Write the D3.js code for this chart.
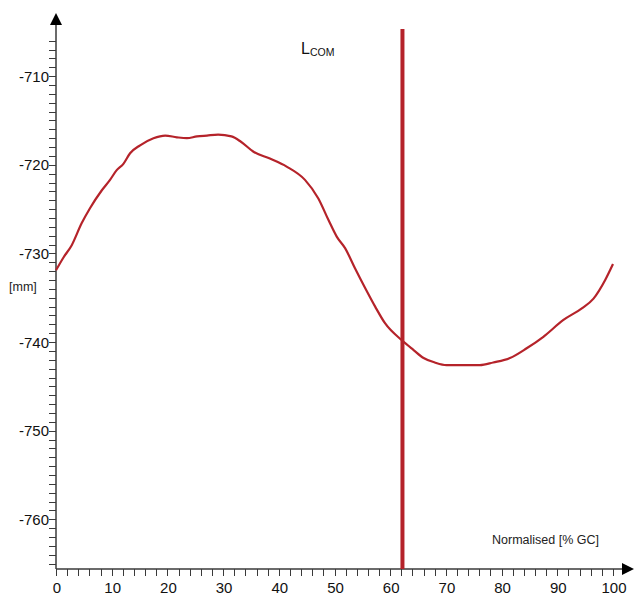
<!DOCTYPE html>
<html>
<head>
<meta charset="utf-8">
<script src="https://cdn.jsdelivr.net/npm/d3@7"></script>
<style>
  html, body { margin: 0; padding: 0; background: #fff; }
  svg { display: block; font-family: "Liberation Sans", Arial, sans-serif; }
</style>
</head>
<body>
<svg id="chart" width="634" height="597"></svg>
<script>
// Gait cycle position (% GC) and trajectory value (mm)
const gaitPercent = [0, 1.4, 2.8, 4.6, 6.1, 8.2, 9.7, 10.9, 12.1, 13.3, 15.1, 17.5, 19.6, 21.7, 23.5, 25.3, 27.1, 29.1, 31.5, 33.2, 35.4, 38.4, 41.4, 44.7, 47.1, 48.9, 50.4, 51.9, 53.7, 55.5, 57.3, 59.1, 62.1, 64.2, 66.0, 68.0, 70.1, 73.0, 76.1, 78.5, 81.5, 84.5, 87.5, 91.1, 94.4, 96.5, 98.6, 100];
const positionMm = [-731.9, -730.4, -729.1, -726.6, -724.9, -722.9, -721.7, -720.6, -719.9, -718.7, -717.8, -717.0, -716.7, -716.9, -717.0, -716.8, -716.7, -716.6, -716.8, -717.4, -718.5, -719.3, -720.2, -721.7, -723.8, -726.2, -728.1, -729.4, -731.7, -733.9, -736.0, -737.9, -739.8, -740.9, -741.8, -742.3, -742.6, -742.6, -742.6, -742.3, -741.8, -740.7, -739.4, -737.5, -736.2, -735.1, -733.0, -731.2];

// Event marker
const eventName = "L";
const eventSub = "COM";
const eventAt = 62.2;

// Axis ticks
const xMajorTicks = [0, 10, 20, 30, 40, 50, 60, 70, 80, 90, 100];
const yMajorTicks = [-710, -720, -730, -740, -750, -760];

const yLabel = "[mm]";
const xLabel = "Normalised [% GC]";

const red = "#b5232a";
const axisColor = "#3a3a3a";

const svg = d3.select("#chart");

const x = d3.scaleLinear().domain([0, 100]).range([56, 613]);
const y = d3.scaleLinear().domain([-765.6, -703.1]).range([569, 15]);

const x0 = x(0), yBase = 569;

// Minor ticks
const xMinor = d3.range(0, 101, 2);
const yMinor = d3.range(-765, -705, 1);

// Y axis
const gy = svg.append("g");
gy.append("line")
  .attr("x1", x0).attr("x2", x0).attr("y1", yBase).attr("y2", 22)
  .attr("stroke", axisColor).attr("stroke-width", 1.5);
gy.append("path")
  .attr("d", `M${x0 - 6},25 L${x0 + 6},25 L${x0},13 Z`)
  .attr("fill", "#000");
gy.selectAll("line.tick").data(yMinor).join("line")
  .attr("class", "tick")
  .attr("x1", x0 - 7).attr("x2", x0)
  .attr("y1", d => Math.round(y(d)) + 0.5).attr("y2", d => Math.round(y(d)) + 0.5)
  .attr("stroke", axisColor).attr("stroke-width", 1);
gy.selectAll("text").data(yMajorTicks).join("text")
  .attr("x", x0 - 7).attr("y", d => y(d) + 5.5)
  .attr("text-anchor", "end")
  .attr("font-size", 15).attr("fill", "#111")
  .text(d => d3.format("d")(d).replace("−", "-"));

// X axis
const gx = svg.append("g");
gx.append("line")
  .attr("x1", x0).attr("x2", 624).attr("y1", yBase).attr("y2", yBase)
  .attr("stroke", axisColor).attr("stroke-width", 1.5);
gx.append("path")
  .attr("d", `M622,${yBase - 6} L622,${yBase + 6} L634,${yBase} Z`)
  .attr("fill", "#000");
gx.selectAll("line.tick").data(xMinor).join("line")
  .attr("class", "tick")
  .attr("x1", d => Math.round(x(d)) + 0.5).attr("x2", d => Math.round(x(d)) + 0.5)
  .attr("y1", yBase).attr("y2", yBase + 7)
  .attr("stroke", axisColor).attr("stroke-width", 1);
gx.selectAll("text").data(xMajorTicks).join("text")
  .attr("x", d => x(d) + 1).attr("y", yBase + 24)
  .attr("text-anchor", "middle")
  .attr("font-size", 15).attr("fill", "#111")
  .text(d => d);

// Axis labels
svg.append("text")
  .attr("x", 9).attr("y", 291)
  .attr("font-size", 12.5).attr("fill", "#222")
  .text(yLabel);
svg.append("text")
  .attr("x", 492).attr("y", 544)
  .attr("font-size", 12.5).attr("fill", "#222")
  .text(xLabel);

// Trajectory
const pts = gaitPercent.map((g, i) => [g, positionMm[i]]);
svg.append("path")
  .datum(pts)
  .attr("fill", "none")
  .attr("stroke", red)
  .attr("stroke-width", 2.2)
  .attr("stroke-linejoin", "round")
  .attr("d", d3.line().x(d => x(d[0])).y(d => y(d[1])).curve(d3.curveMonotoneX));

// Event line
svg.append("line")
  .attr("x1", x(eventAt)).attr("x2", x(eventAt))
  .attr("y1", 29).attr("y2", yBase)
  .attr("stroke", red).attr("stroke-width", 4);

const ev = svg.append("text")
  .attr("x", 301).attr("y", 54)
  .attr("fill", "#111");
ev.append("tspan").attr("font-size", 16).text(eventName);
ev.append("tspan").attr("font-size", 10.5).attr("dy", 2).text(eventSub);
</script>
</body>
</html>
